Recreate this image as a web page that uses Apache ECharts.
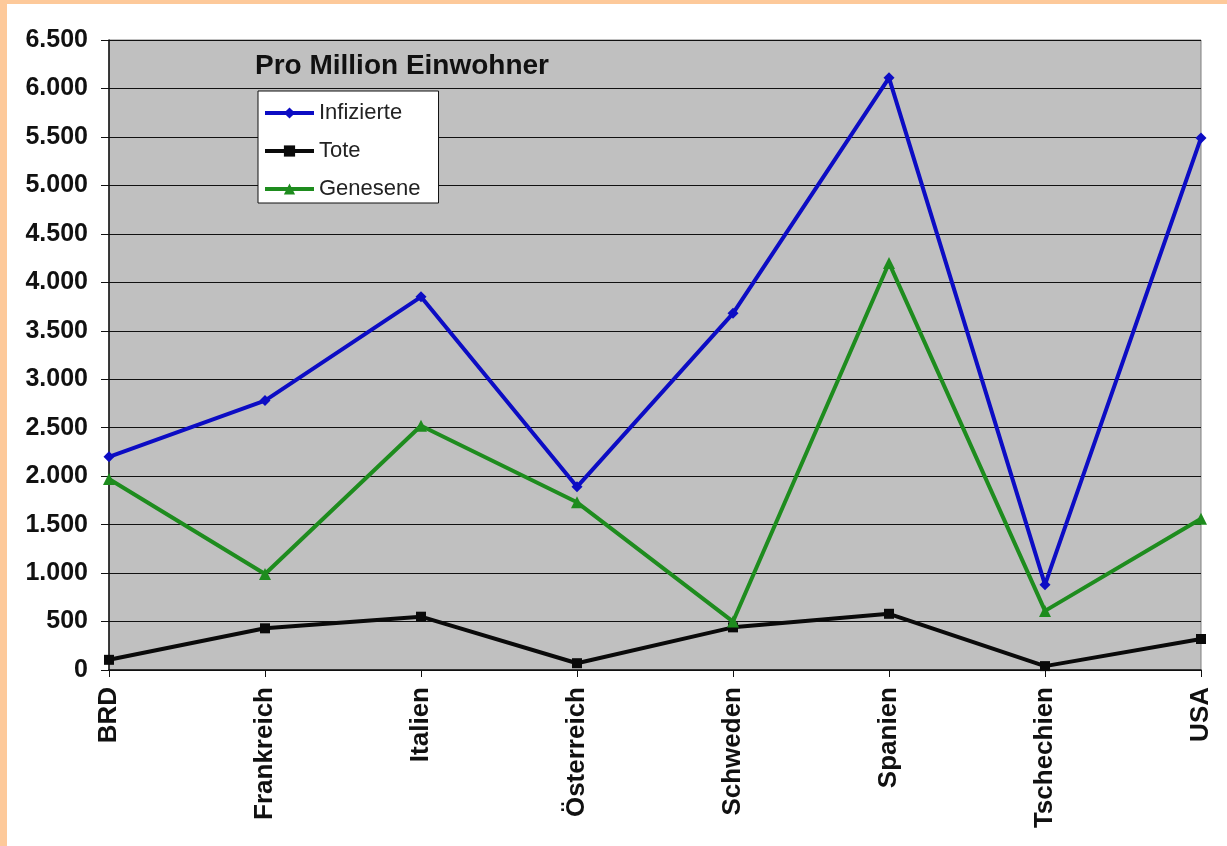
<!DOCTYPE html>
<html>
<head>
<meta charset="utf-8">
<script src="https://cdn.jsdelivr.net/npm/echarts@6/dist/echarts.min.js"></script>
<style>
body{margin:0;background:#fff;}
#wrap{position:relative;width:1227px;height:846px;}
#main{position:absolute;left:0;top:0;width:1227px;height:846px;}
.edge{position:absolute;background:#fdc99a;}
</style>
</head>
<body>
<div id="wrap">
<div id="main"></div>
<div class="edge" style="left:0;top:0;width:1227px;height:4px"></div>
<div class="edge" style="left:0;top:0;width:7px;height:846px"></div>
</div>
<script>
var laender = ['BRD','Frankreich','Italien','Österreich','Schweden','Spanien','Tschechien','USA'];
var infizierte = [2200, 2780, 3850, 1890, 3680, 6110, 880, 5490];
var tote = [105, 430, 550, 70, 440, 580, 40, 320];
var genesene = [1970, 990, 2520, 1730, 500, 4200, 610, 1560];

var myChart = echarts.init(document.getElementById('main'));
var font = 'Arial, "Liberation Sans", sans-serif';

function punkt(v){ // 6500 -> 6.500
    return String(v).replace(/\B(?=(\d{3})+(?!\d))/g, '.');
}

option = {
    animation: false,
    textStyle: {fontFamily: font},
    title: {
        text: 'Pro Million Einwohner',
        left: 250, top: 47,
        textStyle: {fontSize: 28, fontWeight: 'bold', color: '#111', fontFamily: font}
    },
    legend: {
        orient: 'vertical',
        left: 258, top: 91,
        backgroundColor: '#fff',
        borderColor: '#111', borderWidth: 1,
        borderRadius: 0,
        padding: [11, 18, 3, 5],
        itemWidth: 49, itemHeight: 14, itemGap: 16,
        lineStyle: {width: 4},
        textStyle: {fontSize: 22, lineHeight: 22, color: '#222', fontFamily: font},
        data: ['Infizierte','Tote','Genesene']
    },
    grid: {
        left: 109, right: 26, top: 40, bottom: 176,
        show: true, backgroundColor: '#c0c0c0',
        borderColor: '#808080', borderWidth: 1
    },
    xAxis: {
        type: 'category',
        boundaryGap: false,
        data: laender,
        axisLine: {lineStyle: {color: '#111', width: 1.5}},
        axisTick: {show: true, length: 7, lineStyle: {color: '#111'}},
        axisLabel: {rotate: 90, fontSize: 26, fontWeight: 'bold', color: '#111', margin: 17, fontFamily: font}
    },
    yAxis: {
        type: 'value',
        min: 0, max: 6500, interval: 500,
        axisLine: {show: true, lineStyle: {color: '#111', width: 1.5}},
        axisTick: {show: true, length: 8, lineStyle: {color: '#111'}},
        axisLabel: {fontSize: 25, fontWeight: 'bold', color: '#111', margin: 21, fontFamily: font,
            formatter: function(v){ return punkt(v); }},
        splitLine: {lineStyle: {color: '#111', width: 1}}
    },
    series: [
        {
            name: 'Infizierte', type: 'line', data: infizierte,
            symbol: 'diamond', symbolSize: 11,
            lineStyle: {color: '#0c0cc4', width: 4},
            itemStyle: {color: '#0c0cc4'}
        },
        {
            name: 'Tote', type: 'line', data: tote,
            symbol: 'rect', symbolSize: 10,
            lineStyle: {color: '#0a0a0a', width: 4},
            itemStyle: {color: '#0a0a0a'}
        },
        {
            name: 'Genesene', type: 'line', data: genesene,
            symbol: 'triangle', symbolSize: 12,
            lineStyle: {color: '#1e8c1e', width: 4},
            itemStyle: {color: '#1e8c1e'}
        }
    ]
};
myChart.setOption(option);
</script>
</body>
</html>
